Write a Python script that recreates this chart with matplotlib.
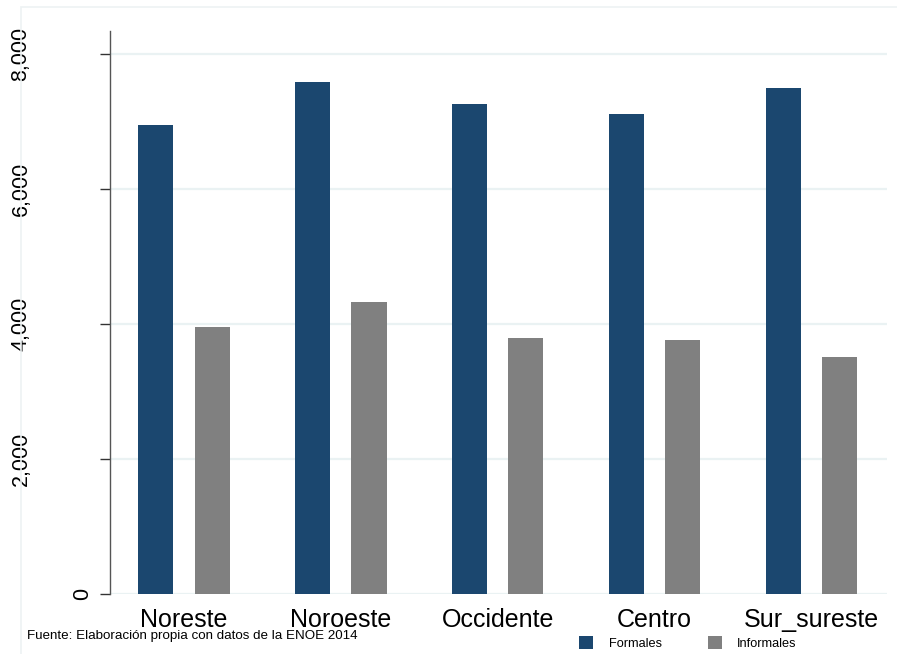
import numpy as np
import matplotlib
matplotlib.use("Agg")
import matplotlib.pyplot as plt
import matplotlib.transforms as mtransforms
from matplotlib.patches import Rectangle

plt.rcParams['font.family'] = ['Liberation Sans', 'DejaVu Sans']

# data
regiones = ["Noreste", "Noroeste", "Occidente", "Centro", "Sur_sureste"]
formales = [6950, 7575, 7255, 7105, 7490]
informales = [3955, 4320, 3790, 3760, 3510]
yticks = [0, 2000, 4000, 6000, 8000]
ytick_labels = ["0", "2,000", "4,000", "6,000", "8,000"]

W, H = 897, 654
fig = plt.figure(figsize=(W / 100, H / 100), dpi=100)
fig.patch.set_facecolor("white")

# faint outer frame (Stata graph region)
fig.patches.append(Rectangle((21 / W, -0.1), 1.2, 1 - 7 / H + 0.1,
                             transform=fig.transFigure, fill=False,
                             edgecolor="#edf2f3", lw=1.2))

ax = fig.add_axes([110 / W, (H - 594) / H, 777 / W, 563 / H])

x = np.arange(len(regiones))
ax.bar(x - 0.18, formales, width=0.223, color="#1b476f", label="Formales", zorder=3)
ax.bar(x + 0.18, informales, width=0.223, color="#808080", label="Informales", zorder=3)

ax.set_xlim(-0.47, 4.48)
ax.set_ylim(0, 8335)

for v in yticks:
    ax.axhline(v, color="#eaf2f3", lw=1.6, zorder=1)

for s in ["top", "right", "bottom"]:
    ax.spines[s].set_visible(False)
ax.spines["left"].set_color("#555555")
ax.spines["left"].set_linewidth(1.0)

ax.set_yticks(yticks)
ax.set_yticklabels([])
ax.tick_params(axis="y", length=7.5, width=1.0, color="#333333")

ax.set_xticks(x)
ax.set_xticklabels(regiones, fontsize=18)
ax.tick_params(axis="x", length=0, pad=10)

# rotated y labels placed like the original
trans = mtransforms.blended_transform_factory(fig.transFigure, ax.transData)
for v, lab in zip(yticks, ytick_labels):
    xpos = 83 / W if v == 0 else 21 / W
    ax.text(xpos, v, lab, transform=trans, rotation=90, ha="center",
            va="center", fontsize=15.5, clip_on=False)

fig.text(27 / W, 1 - 636 / H, "Fuente: Elaboración propia con datos de la ENOE 2014",
         fontsize=9.6, ha="left", va="center")

fig.legend(loc="center", bbox_to_anchor=(688 / W, 1 - 643 / H), ncol=2,
           frameon=False, fontsize=9.2, handlelength=1.1, handleheight=1.1,
           handletextpad=1.2, columnspacing=3.6)

fig.savefig("out.png", dpi=100)
